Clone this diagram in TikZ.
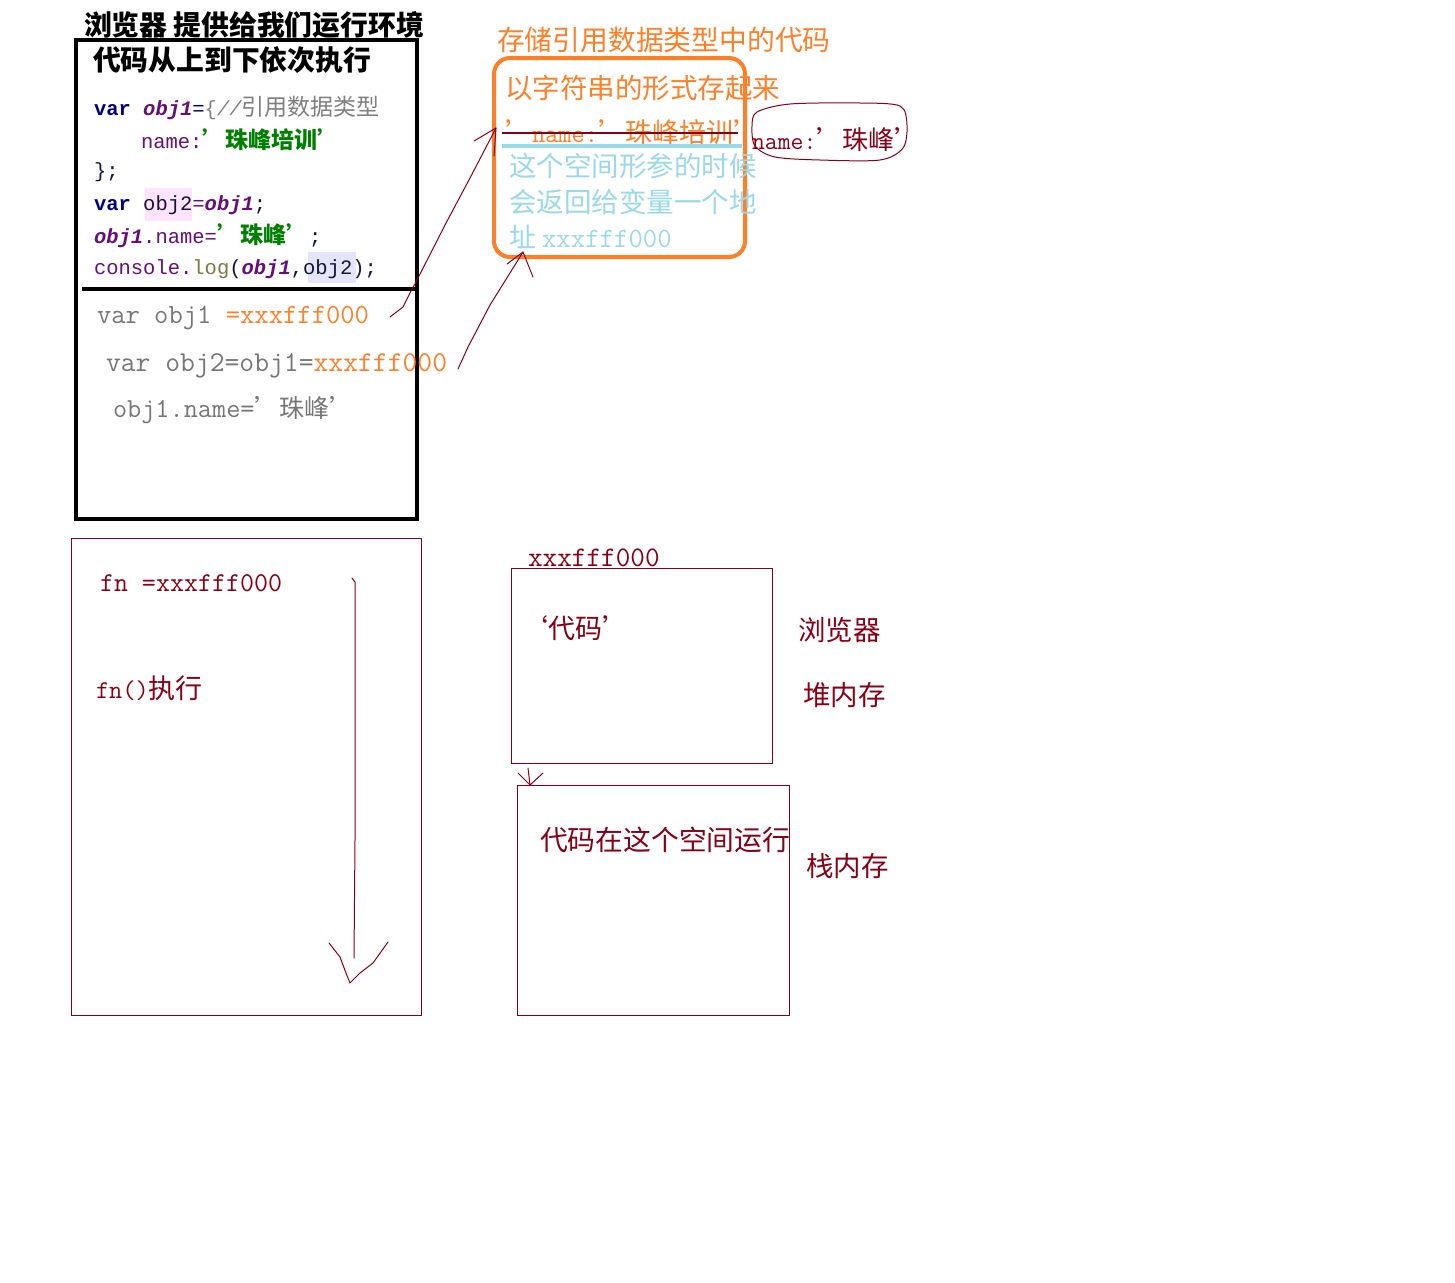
\documentclass[tikz,border=0pt]{standalone}
\usepackage{fontspec}
\setmainfont{Liberation Mono}
\newfontfamily\zhf{Noto Sans CJK SC}
\newcommand\zh[1]{{\zhf #1}}
\newcommand\fs[1]{\fontsize{#1}{#1}\selectfont}
\definecolor{dred}{RGB}{136,0,21}
\definecolor{orng}{RGB}{255,127,39}
\definecolor{ltblue}{RGB}{153,217,234}
\definecolor{cnavy}{RGB}{0,0,128}
\definecolor{cpurp}{RGB}{102,14,122}
\definecolor{cgreen}{RGB}{0,128,0}
\definecolor{cgray}{RGB}{128,128,128}
\definecolor{clog}{RGB}{122,122,67}
\definecolor{cdark}{RGB}{20,20,60}
\definecolor{pinkbg}{RGB}{255,228,255}
\definecolor{lavbg}{RGB}{228,228,255}
\definecolor{gtxt}{RGB}{118,118,118}
\begin{document}
\begin{tikzpicture}[x=1pt,y=-1pt,
  txt/.style={anchor=west, inner sep=0pt, outer sep=0pt},
  hand/.style={draw=dred, line width=1pt, line join=round, line cap=round},
  thinbox/.style={draw=dred, line width=1pt}]
\useasboundingbox[fill=white] (0,0) rectangle (1455,1282);

% ---------- top-left code box ----------
\node[txt, font=\fs{27.8}\zhf\bfseries] (title) at (84,25) {浏览器 提供给我们运行环境};
\draw[line width=4pt] (76,40) rectangle (417,519);
\draw[line width=4pt] (82,289) -- (417,289);
\node[txt, font=\fs{27.8}\zhf\bfseries] (sub) at (93,60) {代码从上到下依次执行};

\fill[pinkbg] (145,188) rectangle (192,221);
\fill[lavbg] (308,252) rectangle (356,283);

\node[txt, font=\fs{20.5}] (c1) at (94,108) {{\color{cnavy}\bfseries var} {\color{cpurp}\bfseries\itshape obj1}{\color{cnavy}=}{\color{cgray}\{\itshape //\fs{23}\zh{引用数据类型}}};
\node[txt, font=\fs{20.5}] (c2) at (141,140) {{\color{cpurp}name:}{\color{cgreen}\fs{23}\zh{\bfseries ’珠峰培训’}}};
\node[txt, font=\fs{20.5}] (c3) at (94,172) {{\color{cdark}\};}};
\node[txt, font=\fs{20.5}] (c4) at (94,205) {{\color{cnavy}\bfseries var} {\color{cdark}obj2}{\color{cpurp}=}{\color{cpurp}\bfseries\itshape obj1}{\color{cdark};}};
\node[txt, font=\fs{20.5}] (c5) at (94,236) {{\color{cpurp}\bfseries\itshape obj1}{\color{cpurp}.name=}{\color{cgreen}\fs{23}\zh{\bfseries ’珠峰’}}{\color{cdark};}};
\node[txt, font=\fs{20.5}] (c6) at (94,269) {{\color{cpurp}console.}{\color{clog}log}{\color{cdark}(}{\color{cpurp}\bfseries\itshape obj1}{\color{cdark},obj2);}};

\node[txt, font=\fs{27.8}\ttfamily, text=gtxt] (g1) at (97,318) {var obj1 {\color{orng}=xxxfff000}};
\node[txt, font=\fs{28.8}\ttfamily, text=gtxt] (g2) at (106,366) {var obj2=obj1={\color{orng}xxxfff000}};
\node[txt, font=\fs{27.5}\ttfamily, text=gtxt] (g3) at (113,410) {obj1.name=\fs{25}\zh{’珠峰’}};

% ---------- orange heap box ----------
\node[txt, font=\fs{27.8}\zhf, text=orng] (htitle) at (497,40) {存储引用数据类型中的代码};
\draw[orng, line width=4pt, rounded corners=16pt] (494,58) rectangle (745,257);
\node[txt, font=\fs{27.5}\zhf, text=orng] (h1) at (505,88) {以字符串的形式存起来};
\node[txt, font=\fs{27}\zhf, text=orng] (h2) at (505,132) {’{\ttfamily\fs{25.7}name:}’珠峰培训’};
\draw[dred, line width=1.5pt] (502,133) -- (738,133);
\draw[ltblue, line width=4pt] (502,146) -- (742,146);
\node[txt, font=\fs{27.5}\zhf, text=ltblue] (b1) at (509,166) {这个空间形参的时候};
\node[txt, font=\fs{27.5}\zhf, text=ltblue] (b2) at (509,202) {会返回给变量一个地};
\node[txt, font=\fs{27}\zhf, text=ltblue] (b3) at (509,237) {址 {\ttfamily\fs{28}xxxfff000}};

\node[txt, font=\fs{25}\ttfamily, text=dred] (nm) at (752,140) {name:\fs{26}\zh{’珠峰’}};
\draw[hand] plot[smooth cycle] coordinates {(757,112) (790,104) (860,103) (900,106) (907,125) (903,148) (880,160) (820,160) (775,157) (755,146) (752,126)};

% hand-drawn arrows
\coordinate (a1s) at (390,317);
\coordinate (a1t) at (496,128);
\draw[hand] (a1s) -- (403,307) -- (410,293) -- (417,280) -- (445,225) -- (470,178) -- (a1t);
\draw[hand] (474,141) -- (a1t) -- (494,156);
\coordinate (a2s) at (458,369);
\coordinate (a2t) at (523,252);
\draw[hand] (a2s) -- (468,347) -- (490,305) -- (a2t);
\draw[hand] (507,264) -- (a2t) -- (533,277);

% ---------- lower left box ----------
\draw[thinbox] (71,538) rectangle (421,1015);
\node[txt, font=\fs{27.2}\ttfamily, text=dred] (fn1) at (100,583) {fn =xxxfff000};
\node[txt, font=\fs{25.7}\ttfamily, text=dred] (fn2) at (96,688) {fn()\fs{27}\zh{执行}};
\coordinate (vtop) at (352,578);
\coordinate (vbot) at (354,958);
\draw[hand] (vtop) -- (355,582) -- (355,840) -- (vbot);
\coordinate (vtip) at (350,983);
\draw[hand] (329,943) -- (340,957) -- (346,973) -- (vtip) -- (360,973) -- (373,963) -- (388,942);

% ---------- right boxes ----------
\node[txt, font=\fs{28.4}\ttfamily, text=dred] (addr) at (528,558) {xxxfff000};
\draw[thinbox, fill=white] (511,568) rectangle (772,763);
\node[txt, font=\fs{27}\zhf, text=dred] (code) at (521,628) {‘代码’};
\node[txt, font=\fs{27.5}\zhf, text=dred] (br) at (798,630) {浏览器};
\node[txt, font=\fs{27.5}\zhf, text=dred] (heap) at (803,695) {堆内存};
\draw[thinbox] (517,785) rectangle (789,1015);
\node[txt, font=\fs{27.8}\zhf, text=dred] (run) at (540,840) {代码在这个空间运行};
\node[txt, font=\fs{27.5}\zhf, text=dred] (stack) at (806,866) {栈内存};
\coordinate (star) at (530,785);
\draw[hand] (528,768) -- (star);
\draw[hand] (518,773) -- (star);
\draw[hand] (543,773) -- (star);
\end{tikzpicture}
\end{document}
